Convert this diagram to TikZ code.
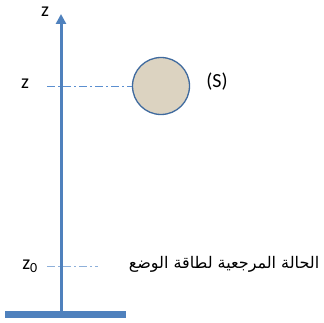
\documentclass[tikz,border=0pt]{standalone}
\usepackage{fontspec}
\setmainfont{Carlito}
\newfontfamily\arabicfont[Script=Arabic]{DejaVu Sans}
\TeXXeTstate=1
\usetikzlibrary{arrows.meta}
\definecolor{axisblue}{HTML}{4F81BD}
\definecolor{dashblue}{HTML}{5B8FD0}
\definecolor{lightdash}{HTML}{8EB0DA}
\definecolor{ballfill}{HTML}{DCD3C1}
\definecolor{balledge}{HTML}{3F6A9E}
\tikzset{
  lbl/.style={font=\fontsize{20}{22}\selectfont, inner sep=0pt},
  dashdot/.style={dash pattern=on 8pt off 3pt on 2pt off 3pt, line width=0.8pt},
}
\begin{document}
\begin{tikzpicture}[x=1pt,y=-1pt]
\useasboundingbox (0,0) rectangle (323,323);
% base bar
\fill[axisblue] (5,311) rectangle (126,318);
\coordinate (base) at (61,311);
\coordinate (top) at (61,14);
\draw[axisblue, line width=3pt, -{Triangle[length=10pt,width=10pt]}] (base) -- (top);
% labels
\node[lbl] (ztop) at (45,12) {z};
\node[lbl] (zmid) at (25,84) {z};
\node[lbl] (z0) at (30,266) {z\textsubscript{0}};
% ball
\node[circle, draw=balledge, line width=1.3pt, fill=ballfill, minimum size=57pt, inner sep=0pt] (ball) at (161,86) {};
\node[lbl] (S) at (217,82) {(S)};
% dash lines
\coordinate (l1) at (47,86);
\draw[dashblue, dashdot] (l1) -- (ball.west);
\coordinate (l2a) at (47,266);
\coordinate (l2b) at (98,266);
\draw[lightdash, dashdot] (l2a) -- (l2b);
% arabic
\node[inner sep=0pt, font=\fontsize{16}{18}\selectfont\arabicfont] (ref) at (224,264) {\beginR الحالة المرجعية لطاقة الوضع\endR};
\end{tikzpicture}
\end{document}
